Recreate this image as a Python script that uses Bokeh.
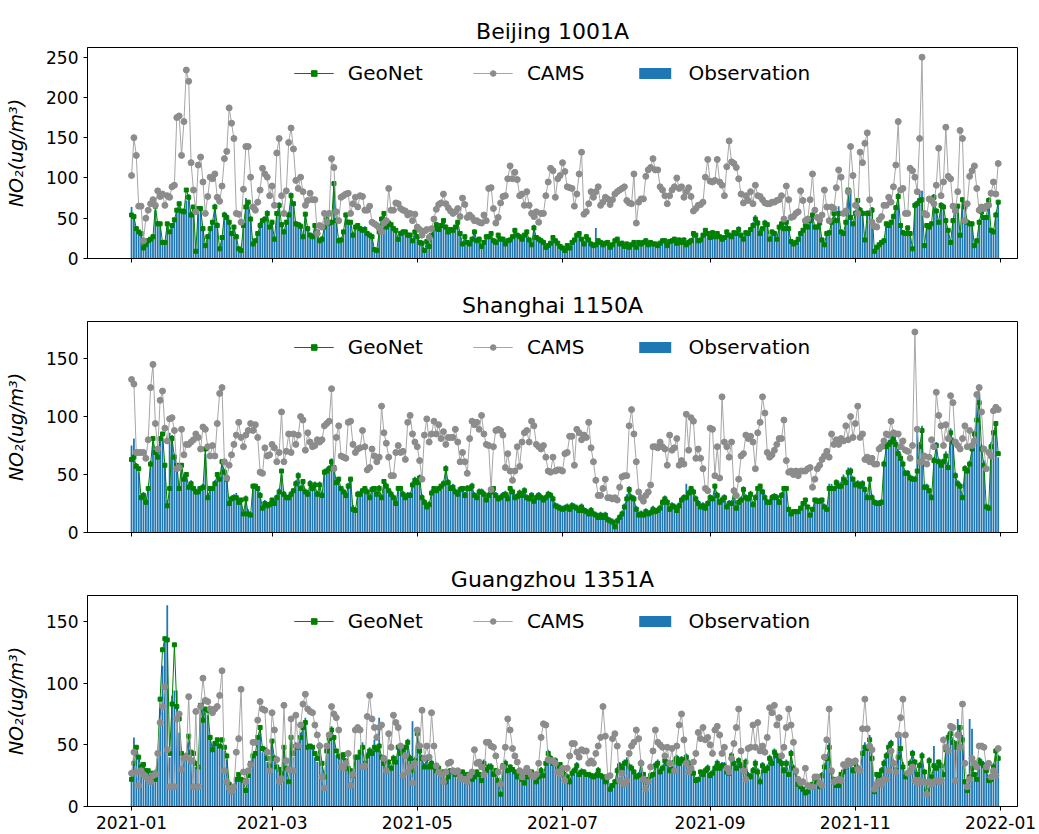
import pandas as pd
from bokeh.plotting import figure
from bokeh.models import (ColumnDataSource, Range1d, FixedTicker, DatetimeTickFormatter,
                          Legend, LegendItem)
from bokeh.layouts import column
from bokeh.embed import file_html
from bokeh.resources import INLINE

start_date = "2021-01-01"
x_tick_dates = ["2021-01-01", "2021-03-01", "2021-05-01", "2021-07-01",
                "2021-09-01", "2021-11-01", "2022-01-01"]
titles = ["Beijing 1001A", "Shanghai 1150A", "Guangzhou 1351A"]
series_names = ["GeoNet", "CAMS", "Observation"]

# ---------------- Beijing 1001A ----------------
bj_cams = [
    103,150,128,65,65,22,50,60,68,73,
    66,84,77,80,66,78,76,89,91,175,
    177,128,170,234,220,119,85,58,116,126,
    95,56,77,101,99,105,76,71,90,124,
    133,187,168,149,56,55,45,86,139,139,
    101,64,60,70,85,112,105,101,78,90,
    66,131,149,78,56,84,144,162,136,97,
    87,101,83,66,72,81,73,73,31,41,
    39,56,45,56,124,113,58,47,76,78,
    80,81,56,68,76,64,78,77,60,60,
    65,45,43,41,38,33,44,47,87,60,
    60,69,68,62,60,59,54,56,47,55,
    39,36,29,34,36,26,37,49,61,67,
    69,80,68,63,59,56,58,62,52,75,
    67,51,54,51,47,47,45,44,54,47,
    87,88,62,44,51,69,77,78,99,115,
    99,107,98,78,80,66,83,66,56,52,
    58,45,56,56,78,95,112,109,76,99,
    103,119,108,89,88,87,65,80,105,132,
    55,58,68,83,76,83,89,66,70,76,
    74,67,73,80,83,85,87,89,72,69,
    68,105,44,70,74,74,102,110,113,124,
    110,110,89,85,78,68,78,85,89,100,
    87,89,76,83,88,77,59,62,66,67,
    70,101,123,96,95,97,123,95,91,78,
    114,146,120,118,113,99,80,69,78,72,
    83,68,91,78,77,73,69,68,68,70,
    70,72,73,78,49,90,73,51,52,56,
    58,84,72,47,49,73,105,60,51,48,
    54,85,64,47,64,62,88,110,101,56,
    59,83,139,103,66,56,132,119,143,156,
    73,45,40,39,48,52,66,66,76,70,
    89,116,170,85,87,56,56,112,109,101,
    83,149,250,56,54,74,72,68,91,137,
    78,95,163,102,99,65,59,83,159,149,
    47,68,102,109,115,87,60,64,62,65,
    66,81,95,80,118,
]
bj_geo = [
    54,52,37,33,31,13,17,22,24,27,
    65,43,43,20,20,43,33,41,48,60,
    68,59,58,85,76,54,64,9,62,62,
    37,16,27,37,45,64,41,12,26,54,
    51,45,31,39,27,12,10,41,64,70,
    49,18,22,31,41,47,49,56,39,45,
    24,56,66,42,33,45,54,78,68,43,
    42,40,27,55,37,29,27,41,33,22,
    24,39,49,44,45,93,47,22,23,33,
    54,45,45,29,39,41,37,35,36,31,
    29,27,11,10,33,49,56,39,44,42,
    37,35,24,31,33,33,29,29,22,33,
    27,20,19,10,21,15,29,37,42,36,
    41,47,39,33,36,35,39,45,31,18,
    27,20,18,24,33,22,24,15,20,27,
    27,31,22,20,29,24,24,18,22,23,
    27,35,29,27,24,29,33,23,17,38,
    26,24,22,20,14,16,19,26,22,19,
    15,13,10,16,13,20,23,29,31,24,
    18,27,23,18,16,17,22,20,17,19,
    20,14,17,22,24,18,19,15,18,14,
    17,20,14,20,18,20,22,17,20,18,
    18,16,19,22,22,16,21,22,24,19,
    23,20,23,17,20,22,31,29,22,23,
    29,35,31,26,32,27,31,27,24,26,
    33,29,27,32,31,36,29,24,32,31,
    36,41,49,44,31,37,44,42,24,33,
    31,24,39,43,37,45,37,21,18,20,
    24,31,35,41,39,47,54,39,39,44,
    23,17,31,32,45,56,47,56,33,31,
    45,85,51,43,56,72,60,56,23,56,
    56,60,9,14,17,20,22,43,41,45,
    52,63,77,41,32,31,38,31,12,66,
    68,72,73,16,41,39,43,76,59,45,
    66,64,47,35,20,47,64,65,29,73,
    64,45,43,43,16,22,45,58,51,51,
    72,35,33,54,70,
]
bj_obs = [
    64,50,40,30,28,18,15,25,22,30,
    60,45,40,22,18,45,30,44,50,62,
    70,60,62,72,80,58,60,12,58,65,
    40,18,30,40,48,68,45,15,28,58,
    55,48,34,42,30,15,12,45,75,72,
    52,20,25,34,45,50,52,60,42,48,
    28,58,70,45,36,48,58,82,70,46,
    45,44,30,58,40,32,30,44,36,25,
    28,42,52,48,48,90,50,25,26,36,
    57,48,42,32,42,44,40,38,40,34,
    32,30,14,12,36,52,58,42,46,45,
    40,38,27,34,36,36,32,32,25,36,
    30,23,22,13,24,18,32,40,45,40,
    44,50,42,36,39,38,42,48,34,21,
    30,23,21,27,36,25,27,18,23,30,
    30,34,25,23,32,27,27,21,25,26,
    30,38,32,30,27,32,36,26,20,42,
    29,27,25,23,17,19,22,29,25,22,
    18,16,13,19,16,23,26,32,34,27,
    21,30,26,21,19,38,25,23,20,22,
    23,17,20,25,27,21,22,18,21,17,
    20,23,17,23,21,23,25,20,23,21,
    21,19,22,25,25,19,24,25,27,22,
    26,23,26,20,24,25,34,32,25,26,
    32,38,34,29,35,30,34,30,27,29,
    36,32,30,35,34,40,32,27,35,34,
    39,45,54,48,34,40,48,45,27,36,
    34,27,42,46,40,48,40,24,21,23,
    27,34,38,44,42,50,58,42,42,47,
    26,20,34,35,48,60,50,65,36,34,
    48,88,86,46,60,75,64,60,26,60,
    60,64,12,17,20,23,25,46,44,48,
    56,66,82,44,35,34,41,34,15,70,
    72,84,84,19,44,42,46,80,62,48,
    70,68,50,38,23,50,68,68,32,76,
    68,48,46,46,19,25,48,62,54,54,
    76,38,36,58,72,
]

# ---------------- Shanghai 1150A ----------------
sh_cams = [
    132,128,69,69,69,69,64,80,125,145,
    94,72,114,122,90,79,98,99,88,55,
    56,89,67,76,76,78,80,85,82,72,
    91,89,74,66,75,66,94,120,125,61,
    47,58,67,76,84,95,82,74,84,88,
    94,88,93,82,52,51,73,66,67,76,
    73,61,69,104,61,70,85,69,85,76,
    84,100,97,71,86,78,74,75,80,78,
    80,92,94,96,124,55,82,92,66,65,
    64,95,96,76,69,72,73,88,74,54,
    56,72,66,61,65,109,86,77,65,49,
    49,69,75,69,70,63,95,101,85,78,
    74,62,46,84,98,78,85,96,85,93,
    81,87,76,82,82,82,89,78,61,69,
    61,51,81,96,93,95,89,101,85,76,
    75,37,74,88,89,88,84,56,68,53,
    45,53,74,57,78,86,88,78,96,92,
    76,74,72,75,65,53,52,65,53,54,
    54,53,68,69,83,83,58,89,86,80,
    84,82,95,73,61,45,32,32,38,46,
    30,30,29,30,28,39,48,49,49,92,
    106,85,61,35,30,27,32,35,41,74,
    74,73,78,74,72,58,84,71,73,81,
    58,62,59,102,71,99,96,64,72,64,
    55,38,36,90,89,49,74,47,117,78,
    74,65,78,36,32,46,66,68,84,81,
    83,78,55,86,95,117,103,69,65,67,
    71,76,81,81,97,62,52,53,50,53,
    49,53,53,53,55,56,39,46,55,58,
    63,66,70,65,85,76,80,76,81,79,
    92,80,100,82,94,109,82,85,63,65,
    61,64,59,59,72,74,79,85,84,96,
    86,85,85,74,79,71,70,64,75,173,
    89,61,61,66,59,65,80,74,121,101,
    92,75,93,81,118,112,78,75,72,81,
    92,74,88,75,79,119,125,104,72,55,
    69,66,105,108,106,
]
sh_geo = [
    63,65,57,55,30,32,26,38,59,81,
    69,65,81,85,58,23,38,81,65,58,
    38,58,46,50,39,42,38,35,35,38,
    39,72,30,38,38,42,50,46,61,52,
    46,25,29,30,30,26,28,16,29,16,
    15,40,40,38,32,21,25,23,24,28,
    25,30,35,53,33,30,30,33,36,42,
    49,38,44,35,33,42,38,41,33,41,
    32,52,53,55,61,56,43,46,38,35,
    32,40,46,20,19,33,33,36,38,35,
    30,37,38,33,38,30,44,40,36,33,
    30,25,38,38,33,30,32,32,41,45,
    43,47,30,26,22,24,34,38,36,38,
    40,42,55,43,38,39,35,33,37,38,
    32,38,38,40,32,30,35,35,33,28,
    32,35,38,32,29,30,32,33,29,38,
    35,30,31,34,32,36,30,29,32,27,
    30,32,30,28,30,33,32,29,23,22,
    21,20,21,22,20,23,22,21,19,22,
    19,18,16,19,16,15,13,15,13,15,
    11,10,9,5,10,13,16,22,29,37,
    30,29,20,15,16,15,18,16,17,20,
    18,19,21,26,29,26,20,23,22,19,
    23,28,30,30,34,38,35,29,25,22,
    23,21,25,30,29,40,32,26,28,30,
    22,25,25,36,21,26,28,37,30,29,
    33,24,30,38,40,35,30,26,26,30,
    31,30,26,32,38,38,20,16,18,18,
    18,21,25,28,22,15,20,28,27,27,
    28,22,20,38,38,38,43,40,40,46,
    43,52,53,46,41,42,40,42,37,30,
    46,30,26,25,25,26,59,74,76,78,
    81,76,68,64,59,51,51,47,46,46,
    53,74,88,39,39,36,30,62,75,61,
    58,61,66,56,86,78,49,42,40,30,
    55,53,59,72,85,97,112,72,58,22,
    21,74,86,94,68,
]
sh_obs = [
    75,81,60,52,28,35,30,40,62,78,
    72,68,82,82,60,28,86,84,68,60,
    42,60,50,52,42,45,40,38,40,40,
    42,68,34,40,40,45,52,48,58,55,
    48,28,32,33,34,30,30,20,32,20,
    18,42,42,40,35,24,28,26,27,30,
    28,33,38,50,36,33,33,36,38,45,
    52,40,46,38,36,45,41,44,36,44,
    35,55,56,58,64,58,46,48,40,38,
    35,43,48,24,22,36,36,38,40,38,
    33,40,40,36,41,33,46,43,38,36,
    33,28,40,40,36,33,35,35,44,48,
    46,50,33,29,25,27,37,40,38,40,
    42,45,58,46,41,42,38,36,40,40,
    35,41,41,43,35,33,38,38,36,31,
    35,38,40,35,32,33,35,36,32,40,
    38,33,34,37,35,39,33,32,35,30,
    33,35,33,31,33,36,35,32,26,25,
    24,23,24,25,23,26,25,24,22,25,
    22,21,19,22,19,18,16,18,16,18,
    14,13,12,8,13,16,19,25,33,40,
    33,32,23,18,19,18,21,19,20,23,
    21,22,24,29,32,29,23,26,25,22,
    26,31,33,42,37,40,38,32,28,25,
    26,24,28,33,32,42,35,29,31,33,
    25,28,28,39,24,29,31,40,33,32,
    36,27,33,40,42,38,33,29,29,33,
    34,33,29,35,40,40,22,18,20,20,
    20,23,27,30,24,17,22,30,30,30,
    30,25,22,42,42,40,46,44,44,50,
    46,56,56,48,44,45,43,45,40,33,
    48,33,29,28,28,29,62,78,80,82,
    84,80,72,68,62,54,54,50,49,48,
    89,78,92,42,42,38,33,65,78,64,
    61,64,70,58,90,82,52,45,43,33,
    58,56,62,75,88,120,126,76,62,25,
    24,78,88,92,65,
]

# ---------------- Guangzhou 1351A ----------------
gz_cams = [
    27,44,28,17,29,26,24,22,20,25,
    26,43,68,81,97,46,16,16,16,71,
    75,30,39,40,89,37,16,77,16,81,
    104,86,85,79,76,79,81,90,110,29,
    20,15,12,16,44,55,95,28,20,29,
    34,52,52,70,85,79,78,44,29,76,
    62,38,20,22,82,37,30,71,29,74,
    49,66,83,91,79,77,76,66,58,49,
    24,15,49,58,81,75,72,62,32,31,
    35,43,17,26,62,64,62,32,33,73,
    90,71,64,56,64,66,39,29,59,48,
    74,68,64,49,25,41,28,32,19,35,
    62,49,78,39,49,40,76,49,33,28,
    26,20,28,35,36,29,28,29,24,22,
    22,20,25,28,46,35,36,32,26,52,
    52,49,48,41,28,18,32,48,71,62,
    47,41,36,29,24,28,31,28,25,24,
    26,35,56,67,66,38,37,37,35,28,
    26,31,21,31,41,51,51,44,40,46,
    45,45,35,37,35,43,49,56,81,57,
    24,25,55,59,49,21,27,18,21,43,
    49,52,62,55,35,22,14,20,32,45,
    62,52,50,48,41,48,35,47,29,49,
    66,75,54,35,28,31,36,43,60,55,
    64,54,56,50,43,62,65,58,43,48,
    31,28,39,51,64,79,45,29,22,47,
    48,66,48,68,45,49,44,56,80,76,
    82,66,72,41,48,64,79,66,52,29,
    22,19,20,31,17,16,16,24,24,19,
    17,40,54,79,29,20,21,22,21,34,
    33,37,35,36,37,30,29,63,87,63,
    49,46,14,18,20,18,22,22,29,45,
    35,28,58,72,87,58,27,28,32,21,
    19,21,20,20,10,20,18,20,21,20,
    21,54,48,45,65,64,21,58,48,83,
    35,16,22,39,35,32,49,49,48,32,
    35,24,29,25,47,
]
gz_geo = [
    22,35,48,40,32,34,29,29,21,27,
    22,43,87,127,136,135,43,83,131,81,
    71,43,40,41,57,44,43,35,32,82,
    70,79,78,56,46,51,54,49,54,48,
    41,18,13,16,22,26,22,21,13,25,
    35,41,43,56,64,47,46,39,33,53,
    39,32,30,27,48,31,20,56,43,49,
    48,56,64,68,48,49,48,43,39,49,
    35,24,45,55,62,56,45,41,40,42,
    37,31,29,25,40,40,44,48,35,41,
    45,43,48,46,49,40,35,29,36,31,
    39,36,48,43,46,48,52,39,29,37,
    59,45,39,32,39,32,35,32,29,31,
    26,28,20,24,29,28,26,27,26,28,
    24,26,25,22,24,28,26,21,35,29,
    32,32,26,29,21,10,33,35,29,32,
    30,28,24,28,22,19,24,25,28,24,
    20,24,29,25,35,43,39,35,37,32,
    34,29,26,24,20,27,29,33,26,28,
    28,26,26,25,24,25,29,25,24,20,
    24,14,17,20,29,33,31,35,36,32,
    31,28,24,25,35,26,20,22,25,26,
    33,35,28,31,37,35,29,30,36,39,
    35,38,37,40,35,28,27,21,22,28,
    26,29,31,25,27,31,35,31,33,33,
    28,27,41,35,31,37,33,31,36,25,
    24,29,35,28,20,33,29,31,39,35,
    44,41,37,35,29,35,26,43,31,28,
    18,16,14,11,12,16,18,22,20,16,
    25,32,39,48,28,22,17,17,26,28,
    32,36,36,29,35,31,29,43,48,47,
    54,39,12,26,25,29,35,41,48,51,
    35,29,40,47,32,24,27,35,43,36,
    26,33,41,28,13,37,24,33,31,36,
    33,26,46,56,59,52,48,51,64,54,
    20,13,24,31,26,22,37,35,33,29,
    21,22,32,45,39,
]
gz_obs = [
    28,56,45,38,30,32,27,30,24,28,
    30,40,80,114,135,163,40,90,94,94,
    60,40,42,44,52,42,40,32,30,81,
    87,76,74,58,50,52,52,50,50,45,
    38,16,12,18,20,24,20,20,12,22,
    32,40,45,58,62,44,44,36,30,55,
    42,30,28,25,45,30,18,58,40,52,
    50,60,66,72,50,46,46,40,36,52,
    32,22,48,58,65,58,42,40,38,40,
    35,30,27,24,42,42,46,52,36,44,
    48,46,54,48,72,42,34,28,38,33,
    42,38,50,46,48,50,55,42,69,40,
    62,48,42,35,42,34,38,34,31,33,
    28,30,22,26,31,30,28,29,28,30,
    26,28,27,24,26,30,28,23,38,32,
    35,35,28,31,23,12,35,38,31,34,
    32,30,26,30,24,21,26,27,30,26,
    22,26,32,27,38,46,42,38,40,35,
    36,32,28,26,22,30,32,36,28,31,
    30,28,28,27,26,28,32,27,26,22,
    26,16,19,22,32,36,34,38,40,35,
    34,30,26,28,38,28,22,24,27,28,
    36,38,30,34,40,38,32,33,40,42,
    38,41,40,43,38,30,30,24,24,30,
    29,32,34,28,30,34,38,34,36,36,
    30,30,44,38,34,40,36,34,39,28,
    27,32,38,31,22,36,32,34,42,38,
    47,44,40,38,32,38,28,46,34,30,
    20,18,16,13,14,18,20,24,22,18,
    28,35,42,52,30,24,19,19,28,30,
    35,39,39,32,38,34,32,46,52,50,
    58,42,14,28,28,32,38,44,52,54,
    38,32,59,60,36,27,30,38,46,38,
    28,36,44,30,15,40,26,49,34,38,
    36,28,50,60,64,56,52,71,63,58,
    22,15,71,63,28,24,40,38,36,32,
    23,24,35,48,42,
]

y_maxes = [262, 182, 171]
y_ticks = [[0, 50, 100, 150, 200, 250], [0, 50, 100, 150], [0, 50, 100, 150]]

FONT = "DejaVu Sans"
DAY = 86400000.0
EPOCH = pd.Timestamp("1970-01-01")


def to_ms(d):
    return (pd.Timestamp(d) - EPOCH).total_seconds() * 1000.0


def make_panel(title, obs, geo, cams, ymax, yticks, last):
    t0 = to_ms(start_date)
    p = figure(frame_width=930, frame_height=211, x_axis_type="datetime",
               x_range=Range1d(t0 - 18.5 * DAY, t0 + 372.1 * DAY),
               y_range=Range1d(0, ymax),
               output_backend="svg", toolbar_location=None,
               min_border_left=87, min_border_right=22, min_border_top=47,
               min_border_bottom=(30 if last else 16), title=title)
    p.title.text_font = FONT
    p.title.text_font_size = "22px"
    p.title.text_font_style = "normal"
    p.title.align = "center"
    p.title.text_color = "black"
    p.title.standoff = 8

    def src(vals):
        dates = pd.date_range(start_date, periods=len(vals), freq="D")
        return ColumnDataSource(dict(x=dates, y=vals))

    s_obs, s_geo, s_cams = src(obs), src(geo), src(cams)
    bars = p.vbar(x="x", top="y", width=0.75 * DAY, source=s_obs,
                  fill_color="#1f77b4", line_color=None)
    gl = p.line("x", "y", source=s_geo, line_color="green", line_width=1)
    gm = p.scatter("x", "y", source=s_geo, marker="square", size=4,
                   fill_color="green", line_color="green")
    cl = p.line("x", "y", source=s_cams, line_color="#a6a6a6", line_width=1)
    cm = p.scatter("x", "y", source=s_cams, marker="circle", size=6,
                   fill_color="#8c8c8c", line_color="#8c8c8c")

    legend = Legend(items=[LegendItem(label=series_names[0], renderers=[gl, gm]),
                           LegendItem(label=series_names[1], renderers=[cl, cm]),
                           LegendItem(label=series_names[2], renderers=[bars])],
                    orientation="horizontal", location="top_center",
                    label_text_font=FONT, label_text_font_size="20px",
                    label_text_color="black",
                    glyph_width=40, glyph_height=14, spacing=50, label_standoff=14,
                    border_line_alpha=0, background_fill_alpha=0,
                    margin=8, padding=6)
    p.add_layout(legend)

    p.xgrid.visible = False
    p.ygrid.visible = False
    p.outline_line_color = "black"
    p.outline_line_width = 1

    p.xaxis.ticker = FixedTicker(ticks=[to_ms(d) for d in x_tick_dates])
    fmt = "%Y-%m"
    p.xaxis.formatter = DatetimeTickFormatter(
        microseconds=fmt, milliseconds=fmt, seconds=fmt, minsec=fmt, minutes=fmt,
        hourmin=fmt, hours=fmt, days=fmt, months=fmt, years=fmt)
    p.yaxis.ticker = FixedTicker(ticks=yticks)
    for ax in (p.xaxis, p.yaxis):
        ax.major_tick_out = 4
        ax.major_tick_in = 0
        ax.minor_tick_line_color = None
        ax.axis_line_color = "black"
        ax.major_tick_line_color = "black"
        ax.major_label_text_font = FONT
        ax.major_label_text_font_size = "17px"
        ax.major_label_text_color = "black"
    if not last:
        # tick marks only, no tick labels (as in the reference's upper panels)
        p.xaxis.major_label_text_font_size = "1px"
        p.xaxis.major_label_text_color = None
        p.xaxis.major_label_standoff = 0
    p.yaxis.axis_label = "NO\u2082(ug/m\u00b3)"
    p.yaxis.axis_label_text_font = FONT
    p.yaxis.axis_label_text_font_size = "19px"
    p.yaxis.axis_label_text_font_style = "italic"
    p.yaxis.axis_label_text_color = "black"
    p.yaxis.axis_label_standoff = 16
    return p


p1 = make_panel(titles[0], bj_obs, bj_geo, bj_cams, y_maxes[0], y_ticks[0], False)
p2 = make_panel(titles[1], sh_obs, sh_geo, sh_cams, y_maxes[1], y_ticks[1], False)
p3 = make_panel(titles[2], gz_obs, gz_geo, gz_cams, y_maxes[2], y_ticks[2], True)

layout = column(p1, p2, p3, spacing=0)
open("out.html", "w").write(file_html(layout, INLINE))
